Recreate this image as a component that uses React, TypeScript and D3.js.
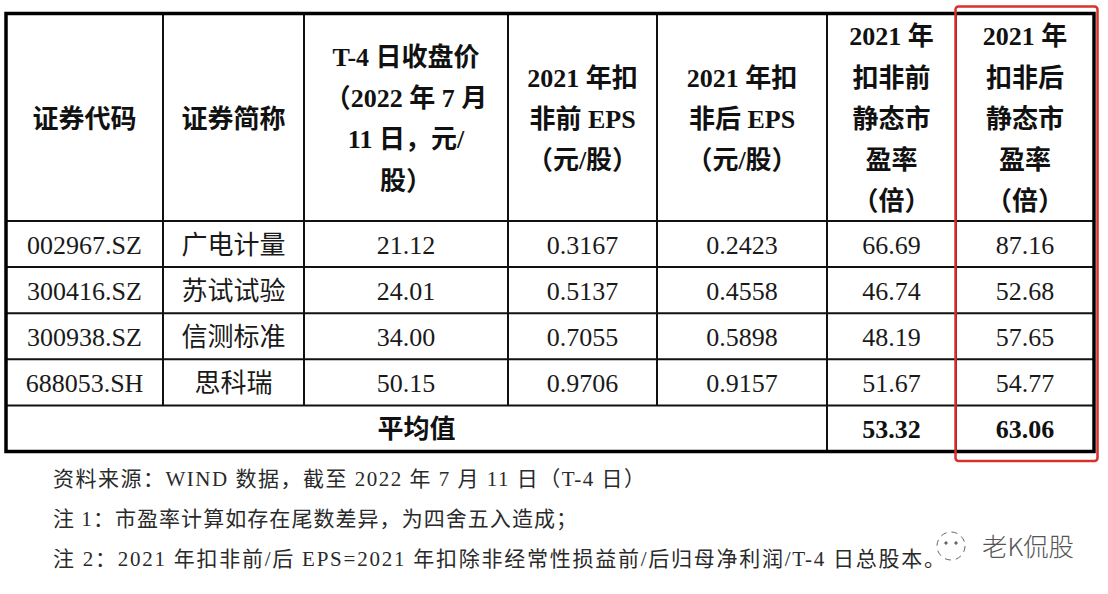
import React from "react";
import * as d3 from "d3";

// table content
const codes = ["002967.SZ", "300416.SZ", "300938.SZ", "688053.SH"];
const names = ["广电计量", "苏试试验", "信测标准", "思科瑞"];
const closePrice = [21.12, 24.01, 34.0, 50.15];
const epsBefore = [0.3167, 0.5137, 0.7055, 0.9706];
const epsAfter = [0.2423, 0.4558, 0.5898, 0.9157];
const peBefore = [66.69, 46.74, 48.19, 51.67];
const peAfter = [87.16, 52.68, 57.65, 54.77];
const avgLabel = "平均值";
const avgPeBefore = 53.32;
const avgPeAfter = 63.06;

const headers = [
  ["证券代码"],
  ["证券简称"],
  ["T-4 日收盘价", "（2022 年 7 月", "11 日，元/", "股）"],
  ["2021 年扣", "非前 EPS", "（元/股）"],
  ["2021 年扣", "非后 EPS", "（元/股）"],
  ["2021 年", "扣非前", "静态市", "盈率", "（倍）"],
  ["2021 年", "扣非后", "静态市", "盈率", "（倍）"],
];

const footnotes = [
  "资料来源：WIND 数据，截至 2022 年 7 月 11 日（T-4 日）",
  "注 1：市盈率计算如存在尾数差异，为四舍五入造成；",
  "注 2：2021 年扣非前/后 EPS=2021 年扣除非经常性损益前/后归母净利润/T-4 日总股本。",
];
const watermark = "老K侃股";

// layout
const W = 1108;
const H = 594;
const colEdges = [6, 163, 304, 508, 657, 827, 956, 1094];
const tableTop = 13.5;
const headBottom = 221;
const tableBottom = 451.5;
const footWidths = [592, 524, 892];
const FONT = "'Liberation Serif', 'Noto Sans CJK SC', serif";

export default function App() {
  const f2 = d3.format(".2f");
  const f4 = d3.format(".4f");

  const rowCount = codes.length + 1;
  const y = d3
    .scaleBand<number>()
    .domain(d3.range(rowCount))
    .range([headBottom, tableBottom]);

  const rows = codes.map((c, i) => [
    c,
    names[i],
    f2(closePrice[i]),
    f4(epsBefore[i]),
    f4(epsAfter[i]),
    f2(peBefore[i]),
    f2(peAfter[i]),
  ]);

  const colMid = (i: number) => (colEdges[i] + colEdges[i + 1]) / 2;
  const headMid = (tableTop + headBottom) / 2 + 2;
  const headLine = 41.2;
  const lastRowTop = y(rowCount - 1)!;

  const footY = d3.scalePoint<number>().domain([0, 1, 2]).range([479, 559]);

  return (
    <svg
      width={W}
      height={H}
      style={{ position: "absolute", left: 0, top: 0, background: "#fff" }}
      fontFamily={FONT}
    >
      <rect width={W} height={H} fill="#fff" />

      {/* horizontal rules */}
      {d3.range(rowCount).map((r) => (
        <line
          key={"h" + r}
          x1={colEdges[0]}
          x2={colEdges[colEdges.length - 1]}
          y1={y(r)}
          y2={y(r)}
          stroke="#111"
          strokeWidth={2}
        />
      ))}
      {/* vertical rules */}
      {colEdges.slice(1, -1).map((x, i) => (
        <line
          key={"v" + i}
          x1={x}
          x2={x}
          y1={tableTop}
          y2={i + 1 < 5 ? lastRowTop : tableBottom}
          stroke="#111"
          strokeWidth={2}
        />
      ))}
      {/* outer frame */}
      <rect
        x={colEdges[0]}
        y={tableTop}
        width={colEdges[colEdges.length - 1] - colEdges[0]}
        height={tableBottom - tableTop}
        fill="none"
        stroke="#000"
        strokeWidth={3.5}
      />

      {/* header */}
      {headers.map((lines, ci) => (
        <text
          key={"hd" + ci}
          textAnchor="middle"
          fontWeight="bold"
          fontSize={26}
          fill="#111"
        >
          {lines.map((ln, li) => (
            <tspan
              key={li}
              x={colMid(ci)}
              y={headMid + (li - (lines.length - 1) / 2) * headLine}
              dominantBaseline="central"
            >
              {ln}
            </tspan>
          ))}
        </text>
      ))}

      {/* body */}
      {rows.map((row, ri) =>
        row.map((cell, ci) => (
          <text
            key={ri + "-" + ci}
            x={colMid(ci)}
            y={y(ri)! + y.bandwidth() / 2 + 1}
            textAnchor="middle"
            dominantBaseline="central"
            fontSize={26}
            fill="#1a1a1a"
          >
            {cell}
          </text>
        ))
      )}

      {/* average row */}
      <g fontWeight="bold" fontSize={26} fill="#111" textAnchor="middle">
        <text
          x={(colEdges[0] + colEdges[5]) / 2}
          y={lastRowTop + y.bandwidth() / 2 + 1}
          dominantBaseline="central"
        >
          {avgLabel}
        </text>
        <text x={colMid(5)} y={lastRowTop + y.bandwidth() / 2 + 1} dominantBaseline="central">
          {f2(avgPeBefore)}
        </text>
        <text x={colMid(6)} y={lastRowTop + y.bandwidth() / 2 + 1} dominantBaseline="central">
          {f2(avgPeAfter)}
        </text>
      </g>

      {/* red highlight */}
      <rect
        x={955.5}
        y={6.5}
        width={142}
        height={454.5}
        rx={3}
        fill="none"
        stroke="#d9302c"
        strokeWidth={2.5}
      />

      {/* footnotes */}
      {footnotes.map((t, i) => (
        <text
          key={"fn" + i}
          x={53}
          y={footY(i)}
          dominantBaseline="central"
          fontSize={21}
          fill="#2a2a2a"
          textLength={footWidths[i]}
          lengthAdjust="spacing"
        >
          {t}
        </text>
      ))}

      {/* watermark */}
      <g stroke="#666" fill="none" strokeWidth={1}>
        <circle cx={951} cy={546} r={14} strokeDasharray="6 5" />
        <circle cx={946} cy={543} r={1.2} fill="#666" />
        <circle cx={956} cy={543} r={1.2} fill="#666" />
      </g>
      <text
        x={982}
        y={545}
        dominantBaseline="central"
        fontFamily="'Noto Sans CJK SC', sans-serif"
        fontWeight={300}
        fontSize={25}
        fill="#555"
        textLength={92}
        lengthAdjust="spacingAndGlyphs"
      >
        {watermark}
      </text>
    </svg>
  );
}
